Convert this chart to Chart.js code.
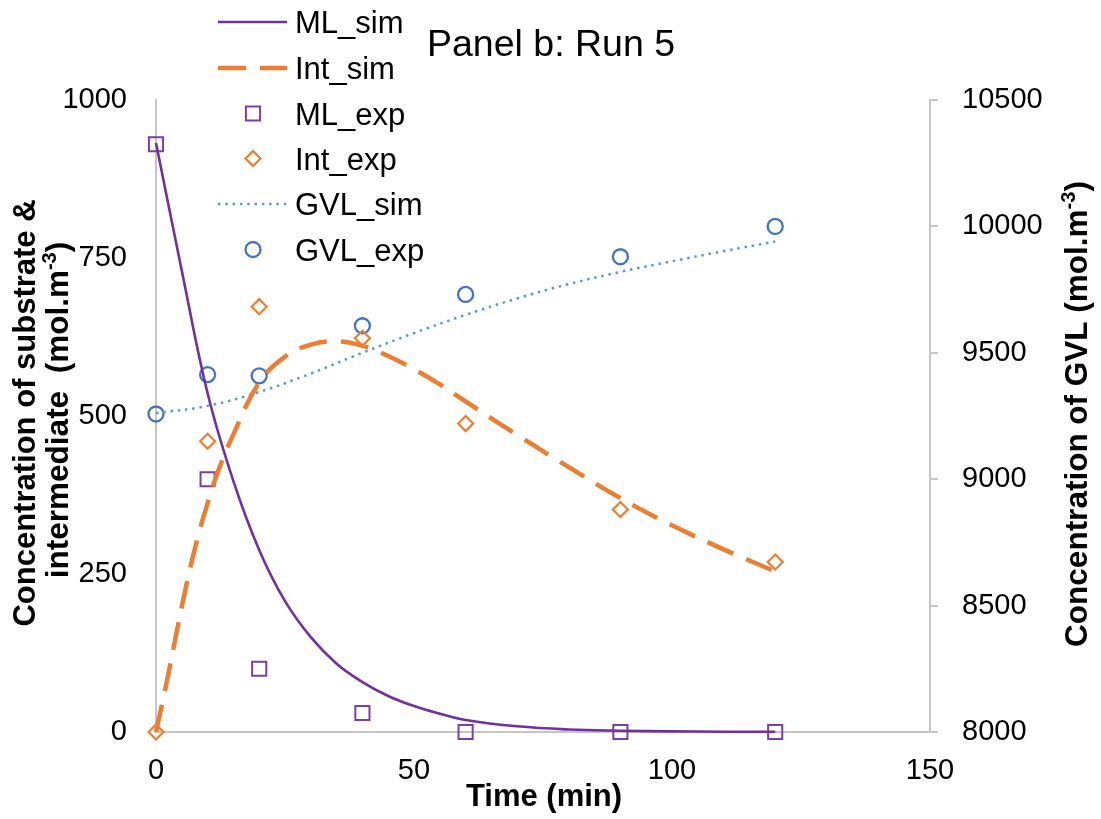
<!DOCTYPE html>
<html>
<head>
<meta charset="utf-8">
<script src="https://cdn.jsdelivr.net/npm/chart.js@4.4.1/dist/chart.umd.min.js"></script>
<style>
  html, body { margin: 0; padding: 0; background: #fff; }
  #wrap { width: 1101px; height: 819px; }
</style>
</head>
<body>
<div id="wrap"><canvas id="c" width="1101" height="819"></canvas></div>
<script>
/* ── data ── */
var expTime = [0, 10, 20, 40, 60, 90, 120];
var mlExp   = [930, 400, 100, 30, 0, 0, 0];
var intExp  = [0, 460, 673, 623, 488, 352, 269];
var gvlExp  = [9258, 9414, 9409, 9607, 9731, 9880, 10000];

var mlSimTime = [0, 5, 10, 15, 20, 25, 30, 35, 40, 45, 50, 55, 60, 70, 80, 90, 100, 110, 120];
var mlSim     = [932, 730, 536, 397, 288, 207, 150, 108, 79, 57, 41, 29, 19, 9, 4, 2, 1, 0.5, 0.3];

var intSimTime = [0, 2, 4, 6, 8, 10, 12, 15, 20, 25, 30, 35, 40, 45, 50, 55, 60, 70, 80, 90, 100, 110, 120];
var intSim     = [0, 76, 158, 237, 305, 362, 412, 471, 553, 594, 613, 618, 611, 595, 574, 550, 523, 470, 419, 370, 327, 289, 254];

var gvlSimTime = [0, 10, 20, 30, 40, 50, 60, 70, 80, 90, 100, 110, 120];
var gvlSim     = [9261, 9290, 9345, 9418, 9500, 9578, 9650, 9715, 9772, 9820, 9862, 9902, 9940];

var xTicks = [0, 50, 100, 150];

var FONT = "'Liberation Sans', Arial, Helvetica, sans-serif";
var C = {
  ml: '#7030A0', mlPt: '#7A3FAA',
  int: '#ED7D31',
  gvl: '#4472C4', gvlSim: '#5B9BD5',
  axis: '#C6C6C6'
};

function pts(xs, ys) { return xs.map(function (x, i) { return { x: x, y: ys[i] }; }); }

/* ── legend + titles (drawn on the canvas) ── */
function drawMarker(ctx, style, x, y, r, color, lw) {
  ctx.save();
  ctx.strokeStyle = color; ctx.lineWidth = lw; ctx.beginPath();
  if (style === 'rect') { var s = r * Math.SQRT1_2; ctx.rect(x - s, y - s, 2 * s, 2 * s); }
  else if (style === 'rectRot') { ctx.moveTo(x - r, y); ctx.lineTo(x, y - r); ctx.lineTo(x + r, y); ctx.lineTo(x, y + r); ctx.closePath(); }
  else { ctx.arc(x, y, r, 0, Math.PI * 2); }
  ctx.stroke();
  ctx.restore();
}

function richLine(ctx, parts, size) {
  var w = 0;
  parts.forEach(function (p) {
    ctx.font = 'bold ' + (p.sup ? Math.round(size * 0.62) : size) + 'px ' + FONT;
    p.w = ctx.measureText(p.t).width; w += p.w;
  });
  var x = -w / 2;
  ctx.textAlign = 'left'; ctx.textBaseline = 'alphabetic';
  parts.forEach(function (p) {
    ctx.font = 'bold ' + (p.sup ? Math.round(size * 0.62) : size) + 'px ' + FONT;
    ctx.fillText(p.t, x, p.sup ? -size * 0.38 : 0);
    x += p.w;
  });
}

var decor = {
  id: 'decor',
  afterDraw: function (chart) {
    var ctx = chart.ctx;
    ctx.save();
    ctx.fillStyle = '#000';

    // chart title
    ctx.font = '37.5px ' + FONT; ctx.textAlign = 'left'; ctx.textBaseline = 'alphabetic';
    ctx.fillText('Panel b: Run 5', 427, 56);

    // legend
    var ly = [22, 68, 113.5, 158.5, 204, 249.5];
    chart.data.datasets.forEach(function (ds, i) {
      var y = ly[i];
      if (ds.showLine) {
        ctx.save();
        ctx.strokeStyle = ds.borderColor; ctx.lineWidth = ds.borderWidth;
        ctx.setLineDash(ds.borderDash || []);
        ctx.beginPath(); ctx.moveTo(218, y); ctx.lineTo(287, y); ctx.stroke();
        ctx.restore();
      } else {
        drawMarker(ctx, ds.pointStyle, 253, y, ds.pointRadius, ds.borderColor, ds.pointBorderWidth);
      }
      ctx.fillStyle = '#000';
      ctx.font = '31px ' + FONT; ctx.textAlign = 'left'; ctx.textBaseline = 'alphabetic';
      ctx.fillText(ds.label, 295, y + 11);
    });

    // x axis title
    ctx.font = 'bold 31px ' + FONT; ctx.textAlign = 'center'; ctx.textBaseline = 'alphabetic';
    ctx.fillText('Time (min)', 544, 806);

    // left axis title, two lines
    ctx.save(); ctx.translate(35, 413); ctx.rotate(-Math.PI / 2);
    richLine(ctx, [{ t: 'Concentration of substrate &' }], 31);
    ctx.restore();
    ctx.save(); ctx.translate(68, 410); ctx.rotate(-Math.PI / 2);
    richLine(ctx, [{ t: 'intermediate  (mol.m' }, { t: '-3', sup: true }, { t: ')' }], 31.5);
    ctx.restore();

    // right axis title
    ctx.save(); ctx.translate(1087, 414); ctx.rotate(-Math.PI / 2);
    richLine(ctx, [{ t: 'Concentration of GVL (mol.m' }, { t: '-3', sup: true }, { t: ')' }], 31.5);
    ctx.restore();

    ctx.restore();
  }
};

var tickFont = { family: FONT, size: 29 };

new Chart(document.getElementById('c'), {
  type: 'scatter',
  data: {
    datasets: [
      { label: 'ML_sim', data: pts(mlSimTime, mlSim), showLine: true, borderColor: C.ml, borderWidth: 2.6,
        pointRadius: 0, tension: 0.4, yAxisID: 'y', clip: false },
      { label: 'Int_sim', data: pts(intSimTime, intSim), showLine: true, borderColor: C.int, borderWidth: 4.5,
        borderDash: [28, 14], pointRadius: 0, tension: 0.4, yAxisID: 'y', clip: false },
      { label: 'ML_exp', data: pts(expTime, mlExp), pointStyle: 'rect', pointRadius: 10, pointBorderWidth: 2,
        borderColor: C.mlPt, backgroundColor: 'rgba(0,0,0,0)', yAxisID: 'y', clip: false },
      { label: 'Int_exp', data: pts(expTime, intExp), pointStyle: 'rectRot', pointRadius: 7.5, pointBorderWidth: 2.2,
        borderColor: C.int, backgroundColor: 'rgba(0,0,0,0)', yAxisID: 'y', clip: false },
      { label: 'GVL_sim', data: pts(gvlSimTime, gvlSim), showLine: true, borderColor: C.gvlSim, borderWidth: 2.5,
        borderDash: [2.5, 4.8], pointRadius: 0, tension: 0.4, yAxisID: 'y2', clip: false },
      { label: 'GVL_exp', data: pts(expTime, gvlExp), pointStyle: 'circle', pointRadius: 7.5, pointBorderWidth: 2.3,
        borderColor: C.gvl, backgroundColor: 'rgba(0,0,0,0)', yAxisID: 'y2', clip: false }
    ]
  },
  options: {
    responsive: false, animation: false,
    layout: { padding: { top: 100, left: 0, right: 0, bottom: 0 } },
    plugins: { legend: { display: false }, title: { display: false }, tooltip: { enabled: false } },
    scales: {
      x: {
        type: 'linear', min: 0, max: 150,
        afterBuildTicks: function (s) { s.ticks = xTicks.map(function (v) { return { value: v }; }); },
        ticks: { font: tickFont, color: '#000', padding: 22, maxRotation: 0, callback: function (v) { return String(v); } },
        grid: { display: false, drawTicks: false },
        border: { color: C.axis, width: 2 },
        afterFit: function (s) { s.height = 87; }
      },
      y: {
        position: 'left', min: 0, max: 1000,
        ticks: { stepSize: 250, font: tickFont, color: '#000', padding: 29, callback: function (v) { return String(v); } },
        grid: { display: false, drawTicks: false },
        border: { color: C.axis, width: 2 },
        afterFit: function (s) { s.width = 156; }
      },
      y2: {
        position: 'right', min: 8000, max: 10500,
        ticks: { stepSize: 500, font: tickFont, color: '#000', padding: 24, callback: function (v) { return String(v); } },
        grid: { display: true, drawOnChartArea: false, drawTicks: true, tickLength: 8, color: C.axis, lineWidth: 2 },
        border: { color: C.axis, width: 2 },
        afterFit: function (s) { s.width = 171; }
      }
    }
  },
  plugins: [decor]
});
</script>
</body>
</html>
